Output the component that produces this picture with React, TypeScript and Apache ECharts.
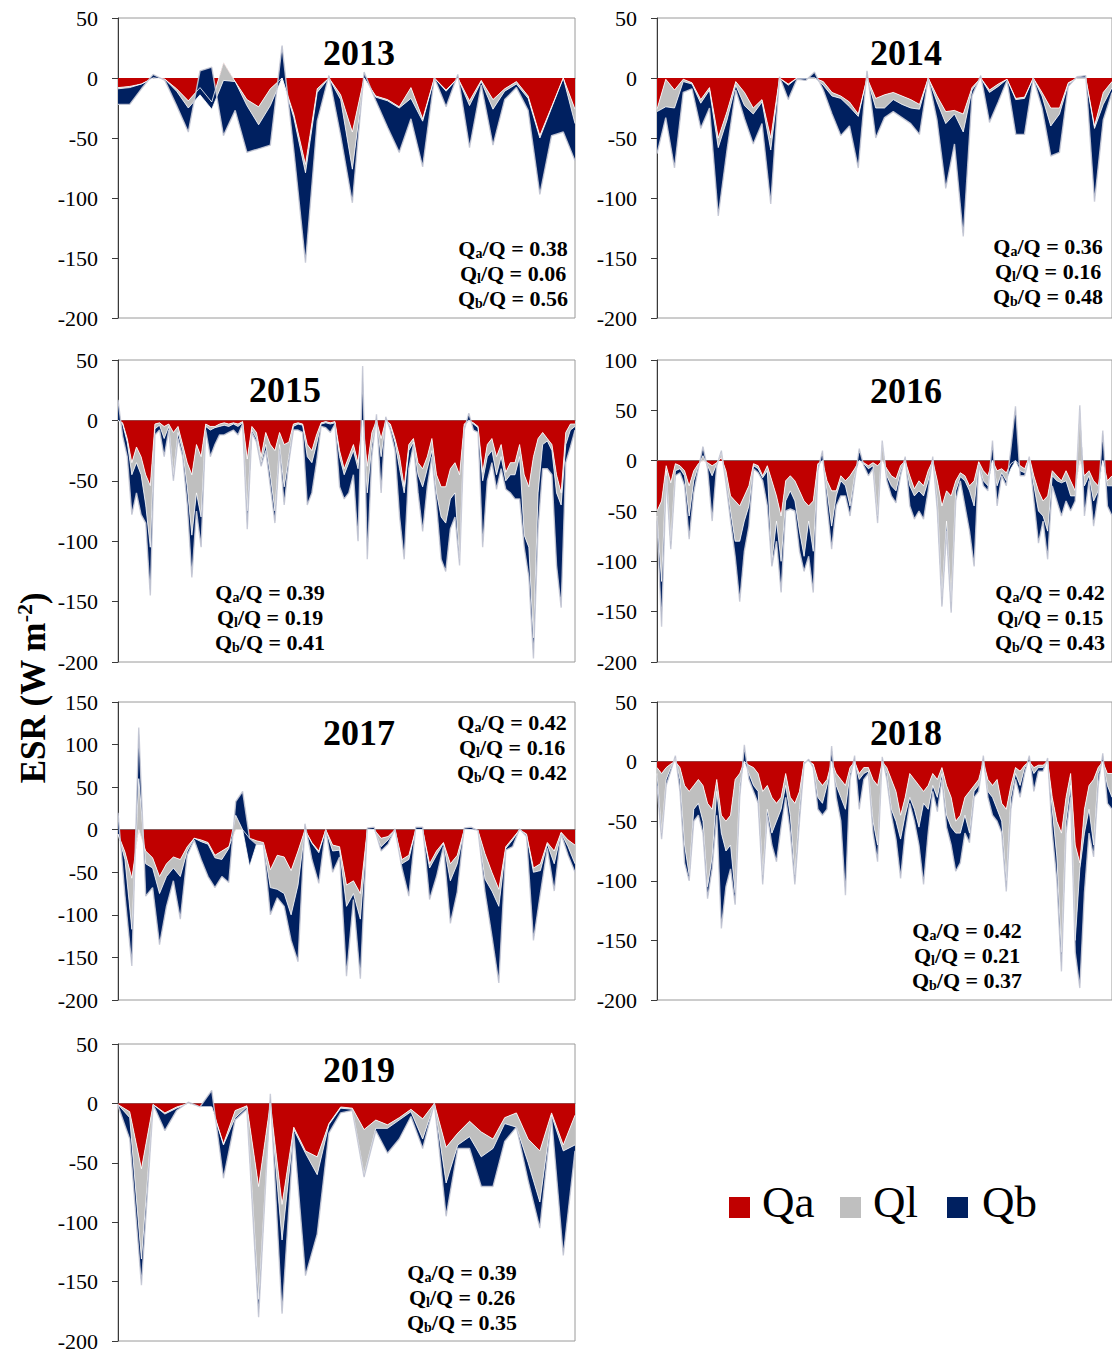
import { useEffect, useRef } from "react";
import * as echarts from "echarts";

// Energy-balance components (W m-2) per sampling step, one set per year.
const QA_2013 = [-8,-7,-5,0,-1,-9,-19,-8,-20,13,-3,-18,-24,-9,0,-30,-72,-9,0,-14,-45,0,-15,-18,-24,-8,-34,0,-10,0,-19,-2,-18,-9,-3,-15,-48,-24,0,-26];
const QL_2013 = [-1,-1,0,0,0,-2,-6,-6,-6,-15,0,-5,-15,-14,0,-3,-7,-3,0,-4,-31,0,-1,-1,-1,-9,-2,0,-1,0,-4,-1,-8,-2,-2,-2,-2,-1,0,-12];
const QB_2013 = [-13,-14,-4,3,-1,-12,-20,20,35,-46,-24,-39,-20,-33,27,-27,-75,-24,2,-30,-28,5,-3,-22,-37,-17,-38,0,-13,3,-35,-3,-30,-7,-3,-10,-47,-23,-45,-31];

const QA_2014 = [-26,-1,-10,-1,-4,-18,-8,-50,-28,-3,-12,-25,-18,-50,0,-5,0,0,0,-3,-12,-15,-20,-30,0,-17,-14,-12,-15,-18,-22,0,-15,-28,-27,-30,-8,0,-10,-5,-1,-17,-16,0,-12,-25,-25,-4,0,0,-40,-12,-3];
const QL_2014 = [-2,-23,-15,-2,-1,-3,-2,-8,-7,-3,-11,-5,-2,-10,0,-1,0,0,0,-3,-3,-2,-4,-2,0,-8,-11,-6,-7,-7,-4,0,-5,-10,-3,-15,-2,0,-2,-2,0,-1,-1,0,-3,-15,-5,-1,0,0,-2,-10,-5];
const QB_2014 = [-35,-9,-50,-9,-4,-21,-15,-57,-25,-4,-11,-25,-18,-45,1,-12,-1,-2,5,-4,-15,-31,-16,-43,6,-25,-8,-10,-11,-13,-21,0,-15,-54,-25,-87,-5,2,-25,-13,-1,-29,-30,0,-10,-25,-32,-2,1,2,-61,-13,-4];

const QA_2015 = [0,-2,-15,-35,-22,-30,-45,-54,-3,-2,-5,-3,-10,-5,-20,-35,-45,-20,-30,-3,-5,-5,-3,-2,-3,-2,-3,-1,-32,-5,-10,-30,-10,-20,-25,-10,-20,-18,-3,-2,-3,-20,-25,-12,-2,-1,-2,-1,-25,-40,-30,-20,-35,0,-38,-10,0,-15,0,-3,-15,-30,-55,-20,-15,-35,-40,-30,-15,-45,-55,-55,-40,-35,-45,-3,0,-2,-5,-43,-20,-15,-30,-20,-43,-35,-35,-20,-45,-55,-30,-15,-10,-15,-20,-45,-60,-10,-3,-3];
const QL_2015 = [0,-1,-3,-10,-13,-15,-25,-51,-4,-2,-10,-2,-35,-5,-5,-20,-50,-40,-50,-2,-3,-1,-2,-2,-2,-1,-2,-1,-43,-3,-5,-5,-10,-25,-50,-10,-35,-12,-2,-1,-1,-10,-10,-8,-1,-1,-1,-1,-5,-5,-5,-5,-5,0,-22,-10,0,-15,0,-2,-3,-10,-5,-5,-3,-10,-15,-10,-10,-15,-25,-30,-25,-25,-70,-2,0,-1,-1,-7,-10,-10,-15,-10,-7,-10,-10,-10,-50,-50,-150,-45,-10,-2,-5,-15,-10,-10,-5,-2];
const QB_2015 = [17,-10,-12,-33,-25,-33,-15,-40,-5,-4,-15,-3,-5,-5,-5,-15,-35,-15,-25,-3,-22,-14,-7,-8,-5,-5,-7,-1,-15,-2,-3,-3,-5,-10,-10,-5,-15,-5,-3,-5,-6,-40,-25,-15,-2,-4,-7,-1,-25,-20,-25,-20,-60,45,-55,-10,5,-30,3,-3,-7,-40,-55,-15,-2,-15,-37,-15,-5,-10,-35,-40,-25,-20,-5,-3,6,-5,-4,-55,-20,-10,-12,-10,-7,-15,-20,-35,-10,-25,-17,-30,-20,-23,-20,-60,-85,-15,-14,-3];

const QA_2016 = [-50,-40,-5,-22,-3,-5,-10,-25,-10,-3,0,-2,-5,-2,3,-10,-35,-40,-45,-35,-25,-3,-5,-15,-5,-20,-35,-55,-20,-15,-20,-30,-40,-45,-40,-3,0,-20,-30,-30,-15,-20,-15,-8,0,-2,-5,-2,-5,0,-8,-15,-18,-5,0,-15,-28,-20,-25,-10,0,-20,-45,-30,-35,-20,-12,-15,-25,-20,-1,-10,-15,0,-10,-8,-12,-3,0,-5,-8,4,-15,-30,-40,-35,-10,-15,-20,-10,-20,-30,0,-15,-10,-20,-25,0,-20,-15];
const QL_2016 = [-5,-80,-5,-58,-7,-3,-5,-30,-10,-2,5,-3,-10,-1,5,-8,-15,-40,-35,-25,-20,-2,-3,-2,-5,-80,-25,-45,-20,-15,-20,-40,-55,-15,-50,-2,0,-10,-35,-5,-5,-5,-30,-7,0,-1,-3,-3,-50,18,-7,-10,-12,-5,0,-10,-7,-10,-10,-10,0,-20,-90,-30,-105,-10,-4,-5,-5,-25,-1,-10,-10,0,-15,-4,-8,-5,0,-5,-4,0,-10,-20,-15,-35,-5,-5,-2,-10,-15,-5,50,-10,-5,-20,-5,0,-5,-10];
const QB_2016 = [-5,-45,-5,-8,-5,-4,-10,-23,-12,-3,9,-3,-45,-2,2,-4,-10,-15,-60,-30,-20,-3,-4,-3,-35,-5,-20,-31,-10,-18,-10,-20,-15,-35,-41,-5,10,-15,-23,-10,-15,-10,-10,-5,12,-2,-7,-3,-7,2,-5,-10,-12,-5,4,-20,-23,-20,-23,-10,4,-10,-10,-10,-11,-10,-4,-25,-40,-60,-1,-5,-5,20,-20,-3,-5,20,54,-5,-3,0,-15,-32,-5,-28,-10,-20,-33,-20,-15,-5,5,-30,-5,-25,-5,30,-20,-30];

const QA_2017 = [-5,-26,-57,0,-25,-33,-55,-40,-32,-35,-20,-10,-12,-15,-30,-25,-20,0,0,-10,-13,-15,-47,-30,-32,-48,-25,0,-15,-25,0,-18,-20,-65,-60,-75,0,0,-10,-8,0,-35,-30,0,0,-40,-25,-15,-40,-30,0,0,-1,-28,-50,-70,-20,-10,0,-5,-45,-40,-15,-25,-3,-12,-18];
const QL_2017 = [0,-9,-60,60,-15,-12,-20,-15,-13,-20,-5,0,-2,-2,-3,-10,-2,17,0,-33,-4,-2,-21,-40,-43,-52,-40,0,-1,-2,0,-7,-4,-25,-15,-30,0,0,-10,-4,0,-5,-5,0,0,-5,-5,-1,-20,-10,0,0,0,-30,-22,-20,-2,-2,0,-1,-5,-8,-2,-15,-1,-8,-22];
const QB_2017 = [25,-42,-43,60,-38,-23,-60,-35,-15,-50,-5,-2,-21,-38,-35,-20,-40,16,45,33,0,0,-32,-10,-15,-30,-90,7,-19,-36,0,-25,-8,-82,-7,-70,2,3,-5,-5,1,-5,-43,3,3,-37,-25,-4,-50,-33,2,3,0,-15,-53,-90,-2,-8,1,-2,-80,-27,-5,-32,-1,-10,-10];

const QA_2018 = [-5,-10,-5,-2,0,-5,-20,-25,-20,-15,-20,-35,-40,-15,-45,-50,-45,-15,-10,0,-3,-5,-10,-25,-20,-30,-35,-30,-10,-30,-35,-25,0,0,-2,-15,-20,-15,0,-10,-15,-20,-5,0,-10,-5,-5,-15,-20,0,-5,-15,-25,-45,-30,-10,-15,-20,-25,-20,-10,-15,-5,-20,-30,-50,-45,-30,-25,-20,-15,0,-15,-20,-15,-35,-40,-20,-5,-8,-3,0,-5,-3,-3,0,-30,-50,-60,-30,-10,-70,-85,-40,-20,-15,-5,0,-10,-10];
const QL_2018 = [-5,-50,-10,-3,3,-10,-50,-70,-20,-20,-30,-70,-40,-10,-15,-25,-25,-95,-10,0,-7,-15,-15,-70,-20,-30,-15,-10,-10,-15,-60,-15,0,0,-1,-15,-15,-5,0,-10,-15,-20,-5,0,-5,-5,-3,-35,-50,0,-5,-25,-25,-20,-15,-20,-25,-35,-10,-20,-10,-15,-5,-25,-25,-10,-15,-15,-35,-5,-5,0,-10,-10,-25,-15,-60,-10,-5,-12,-2,0,-5,-2,-2,0,-10,-30,-100,-20,-10,-80,-5,-20,-20,-55,-5,0,-10,-20];
const QB_2018 = [-10,-5,-5,-3,2,-10,-15,-5,-10,-10,-10,-10,-10,-20,-80,-30,-20,-10,-10,14,-5,-5,-10,-8,-5,-10,-34,-15,-10,-15,-8,-10,-2,2,-2,-10,-10,-20,13,-10,-20,-72,-5,5,-25,-5,-2,-10,-14,4,-5,-5,-15,-33,-15,-5,-10,-15,-68,-20,-5,-12,-5,-10,-15,-32,-25,-15,-8,-5,-5,5,-5,-15,-10,-10,-9,-10,-5,-10,-5,5,-15,-3,-3,3,-20,-20,-16,-10,-10,-10,-100,-50,-20,-10,-10,7,-15,-10];

const QA_2019 = [-1,-7,-55,-1,-8,-3,0,-3,-3,-34,-6,-2,-70,0,-85,-20,-40,-45,-17,-3,-4,-22,-14,-18,-12,-5,-13,0,-37,-25,-15,-24,-30,-12,-8,-30,-40,-8,-35,-10];
const QL_2019 = [0,-5,-76,0,-1,-1,0,0,0,-1,-6,-1,-95,0,-30,-2,-2,-15,-1,-1,-1,-38,-7,-3,-2,-2,-17,0,-30,-10,-13,-21,-8,-5,-12,-20,-43,-2,-5,-25];
const QB_2019 = [-1,-18,-22,0,-14,-2,1,0,14,-28,-2,-2,-15,8,-62,-3,-103,-50,-7,-4,-1,-2,-2,-21,-16,-4,-8,0,-28,-3,-10,-25,-32,-15,0,-15,-22,-2,-88,-5];

// Share of each component in the total, per year (Qa, Ql, Qb)
const RATIOS_2013 = ["0.38", "0.06", "0.56"];
const RATIOS_2014 = ["0.36", "0.16", "0.48"];
const RATIOS_2015 = ["0.39", "0.19", "0.41"];
const RATIOS_2016 = ["0.42", "0.15", "0.43"];
const RATIOS_2017 = ["0.42", "0.16", "0.42"];
const RATIOS_2018 = ["0.42", "0.21", "0.37"];
const RATIOS_2019 = ["0.39", "0.26", "0.35"];

const SERIES_NAMES = ["Qa", "Ql", "Qb"];

const PANELS = [
  { year: "2013", qa: QA_2013, ql: QL_2013, qb: QB_2013, ratios: RATIOS_2013, yMin: -200, yMax: 50 },
  { year: "2014", qa: QA_2014, ql: QL_2014, qb: QB_2014, ratios: RATIOS_2014, yMin: -200, yMax: 50 },
  { year: "2015", qa: QA_2015, ql: QL_2015, qb: QB_2015, ratios: RATIOS_2015, yMin: -200, yMax: 50 },
  { year: "2016", qa: QA_2016, ql: QL_2016, qb: QB_2016, ratios: RATIOS_2016, yMin: -200, yMax: 100 },
  { year: "2017", qa: QA_2017, ql: QL_2017, qb: QB_2017, ratios: RATIOS_2017, yMin: -200, yMax: 150 },
  { year: "2018", qa: QA_2018, ql: QL_2018, qb: QB_2018, ratios: RATIOS_2018, yMin: -200, yMax: 50 },
  { year: "2019", qa: QA_2019, ql: QL_2019, qb: QB_2019, ratios: RATIOS_2019, yMin: -200, yMax: 50 },
];

// Panel placement on the page (grid box, year title centre, ratio note centre)
const LAYOUT = [
  { left: 118, top: 18, height: 300, title: [359, 53], note: [513, 273] },
  { left: 657, top: 18, height: 300, title: [906, 53], note: [1048, 271] },
  { left: 118, top: 360, height: 302, title: [285, 390], note: [270, 617] },
  { left: 657, top: 360, height: 302, title: [906, 391], note: [1050, 617] },
  { left: 118, top: 702, height: 298, title: [359, 733], note: [512, 747] },
  { left: 657, top: 702, height: 298, title: [906, 733], note: [967, 955] },
  { left: 118, top: 1044, height: 298, title: [359, 1070], note: [462, 1297] },
];

// Legend swatch / label positions
const LEGEND_POS = [
  { box: [729, 1197], label: [762, 1202] },
  { box: [840, 1197], label: [873, 1202] },
  { box: [947, 1197], label: [982, 1202] },
];

const PLOT_WIDTH = 457;
const SERIF = "'Liberation Serif', 'Times New Roman', serif";
const COLORS: Record<string, string> = { Qa: "#C00000", Ql: "#BFBFBF", Qb: "#002060" };

function buildOption() {
  const grid = PANELS.map((_, i) => ({
    left: LAYOUT[i].left,
    top: LAYOUT[i].top,
    width: PLOT_WIDTH,
    height: LAYOUT[i].height,
    show: true,
    borderColor: "#9a9a9a",
    borderWidth: 1,
    backgroundColor: "transparent",
  }));

  const xAxis = PANELS.map((p, i) => ({
    gridIndex: i,
    type: "category",
    boundaryGap: false,
    data: p.qa.map((_, k) => k + 1),
    axisLine: { show: true, lineStyle: { color: "#7a7a7a", width: 1 } },
    axisTick: { show: false },
    axisLabel: { show: false },
    splitLine: { show: false },
  }));

  const yAxis = PANELS.map((p, i) => ({
    gridIndex: i,
    type: "value",
    min: p.yMin,
    max: p.yMax,
    interval: 50,
    axisLine: { show: true, onZero: false, lineStyle: { color: "#3a3a3a", width: 1 } },
    axisTick: { show: true, inside: false, length: 6, lineStyle: { color: "#3a3a3a" } },
    axisLabel: { fontFamily: SERIF, fontSize: 22, color: "#000", margin: 20 },
    splitLine: { show: false },
  }));

  const series: any[] = [];
  PANELS.forEach((p, i) => {
    const parts = [p.qa, p.ql, p.qb];
    SERIES_NAMES.forEach((name, k) => {
      const color = COLORS[name];
      series.push({
        name,
        type: "line",
        xAxisIndex: i,
        yAxisIndex: i,
        stack: "esr" + p.year,
        stackStrategy: "all",
        data: parts[k],
        symbol: "none",
        silent: true,
        color,
        itemStyle: { color },
        lineStyle:
          k === 2
            ? { color: "rgba(200,202,214,0.9)", width: 1.4 }
            : { color: "#ffffff", width: 0.8 },
        areaStyle: { color, opacity: 1 },
      });
    });
  });

  const graphic: any[] = [];
  PANELS.forEach((p, i) => {
    const L = LAYOUT[i];
    graphic.push({
      type: "text",
      x: L.title[0],
      y: L.title[1],
      silent: true,
      style: {
        text: p.year,
        fontFamily: SERIF,
        fontSize: 36,
        fontWeight: "bold",
        fill: "#000",
        align: "center",
        verticalAlign: "middle",
      },
    });
    const [ra, rl, rb] = p.ratios;
    graphic.push({
      type: "text",
      x: L.note[0],
      y: L.note[1],
      silent: true,
      style: {
        text:
          `{q|Q}{s|a}{q|/Q = ${ra}}\n` +
          `{q|Q}{s|l}{q|/Q = ${rl}}\n` +
          `{q|Q}{s|b}{q|/Q = ${rb}}`,
        align: "center",
        verticalAlign: "middle",
        fill: "#000",
        rich: {
          q: { fontFamily: SERIF, fontSize: 22, fontWeight: "bold", lineHeight: 25, fill: "#000" },
          s: {
            fontFamily: SERIF,
            fontSize: 14,
            fontWeight: "bold",
            lineHeight: 14,
            padding: [10, 0, 0, 0],
            verticalAlign: "bottom",
            fill: "#000",
          },
        },
      },
    });
  });

  // Shared y-axis title
  graphic.push({
    type: "text",
    x: 33,
    y: 688,
    rotation: Math.PI / 2,
    silent: true,
    style: {
      text: "{m|ESR (W m}{p|-2}{m|)}",
      align: "center",
      verticalAlign: "middle",
      rich: {
        m: { fontFamily: SERIF, fontSize: 35, fontWeight: "bold", lineHeight: 40, fill: "#000" },
        p: {
          fontFamily: SERIF,
          fontSize: 22,
          fontWeight: "bold",
          lineHeight: 22,
          padding: [0, 0, 12, 0],
          verticalAlign: "top",
          fill: "#000",
        },
      },
    },
  });

  // Legend: coloured squares with component names
  SERIES_NAMES.forEach((name, k) => {
    const pos = LEGEND_POS[k];
    graphic.push({
      type: "rect",
      silent: true,
      shape: { x: pos.box[0], y: pos.box[1], width: 21, height: 21 },
      style: { fill: COLORS[name] },
    });
    graphic.push({
      type: "text",
      x: pos.label[0],
      y: pos.label[1],
      silent: true,
      style: {
        text: name,
        fontFamily: SERIF,
        fontSize: 45,
        fill: "#000",
        align: "left",
        verticalAlign: "middle",
      },
    });
  });

  return {
    animation: false,
    backgroundColor: "#ffffff",
    grid,
    xAxis,
    yAxis,
    series,
    graphic,
  };
}

export default function App() {
  const ref = useRef<HTMLDivElement>(null);

  useEffect(() => {
    if (!ref.current) return;
    const chart = echarts.init(ref.current, undefined, { renderer: "svg" });
    chart.setOption(buildOption() as any);
    return () => chart.dispose();
  }, []);

  return (
    <div
      ref={ref}
      style={{ position: "absolute", left: 0, top: 0, width: 1112, height: 1352, background: "#fff" }}
    />
  );
}
